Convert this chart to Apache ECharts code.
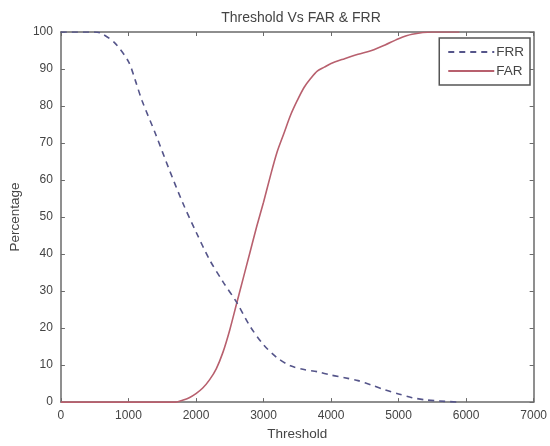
<!DOCTYPE html>
<html>
<head>
<meta charset="utf-8">
<script src="https://cdn.jsdelivr.net/npm/echarts@6/dist/echarts.min.js"></script>
<style>
  html, body { margin: 0; padding: 0; background: #fff; }
  #chart { width: 550px; height: 446px; }
</style>
</head>
<body>
<div id="chart"></div>
<script>
// threshold values and percentages
var frrThreshold = [0, 500, 600, 800, 1000, 1100, 1200, 1400, 1600, 1800, 2000, 2200, 2400, 2600, 2800, 3000, 3200, 3400, 3600, 3800, 4000, 4200, 4400, 4600, 4800, 5000, 5200, 5400, 5600, 5900];
var frrValues = [100, 100, 99.6, 97, 92, 87, 81.5, 72.5, 63, 54, 46, 38.5, 32.5, 27, 20.5, 15.5, 12, 9.8, 8.8, 8.2, 7.3, 6.6, 5.8, 4.6, 3.3, 2.2, 1.2, 0.6, 0.3, 0];

var farThreshold = [0, 1700, 1800, 1900, 2000, 2100, 2200, 2300, 2400, 2500, 2600, 2700, 2800, 2900, 3000, 3100, 3200, 3300, 3400, 3500, 3600, 3700, 3800, 3900, 4000, 4200, 4400, 4600, 4800, 5000, 5200, 5500, 5900];
var farValues = [0, 0, 0.5, 1.2, 2.3, 3.8, 6, 9, 13.5, 19.5, 26.5, 33.5, 40.5, 47.5, 54, 61, 67.5, 72.5, 77.5, 81.5, 85, 87.5, 89.5, 90.5, 91.5, 92.8, 94, 95, 96.5, 98.2, 99.4, 100, 100];

function pairs(xs, ys) {
  return xs.map(function (x, i) { return [x, ys[i]]; });
}

var textColor = "#444";
var axisColor = "#6a6a6a";
var font = "Liberation Sans";

var chart = echarts.init(document.getElementById("chart"), null, { renderer: "canvas" });

function axisBase(show) {
  return {
    type: "value",
    axisLine: { show: true, onZero: false, lineStyle: { color: axisColor, width: 1.5 } },
    axisTick: { show: true, inside: true, length: 4, lineStyle: { color: axisColor } },
    axisLabel: {
      show: show, color: textColor, fontFamily: font, fontSize: 12,
      formatter: function (v) { return String(v); }
    },
    splitLine: { show: false }
  };
}

var option = {
  animation: false,
  backgroundColor: "#fff",
  title: {
    text: "Threshold Vs FAR & FRR",
    left: 296,
    textAlign: "center",
    top: 6,
    textStyle: { color: textColor, fontFamily: font, fontSize: 14, fontWeight: "normal" }
  },
  legend: {
    right: 20,
    top: 38,
    orient: "vertical",
    align: "left",
    itemWidth: 46,
    itemHeight: 10,
    itemGap: 5,
    padding: [7, 6, 7, 8],
    borderColor: "#555",
    borderWidth: 1.5,
    backgroundColor: "#fff",
    itemStyle: { opacity: 0 },
    textStyle: { color: textColor, fontFamily: font, fontSize: 13.5, padding: [0, 0, 0, -3] },
    data: ["FRR", "FAR"]
  },
  grid: { left: 60, right: 15, top: 32, bottom: 41, containLabel: false },
  xAxis: [
    Object.assign(axisBase(true), {
      min: 0, max: 7000, interval: 1000, position: "bottom",
      name: "Threshold", nameLocation: "middle", nameGap: 23,
      nameTextStyle: { color: textColor, fontFamily: font, fontSize: 13.5 }
    }),
    Object.assign(axisBase(false), { min: 0, max: 7000, interval: 1000, position: "top" })
  ],
  yAxis: [
    Object.assign(axisBase(true), {
      min: 0, max: 100, interval: 10, position: "left",
      name: "Percentage", nameLocation: "middle", nameGap: 35,
      nameTextStyle: { color: textColor, fontFamily: font, fontSize: 13.5 }
    }),
    Object.assign(axisBase(false), { min: 0, max: 100, interval: 10, position: "right" })
  ],
  series: [
    {
      name: "FRR",
      type: "line",
      data: pairs(frrThreshold, frrValues),
      symbol: "none",
      smooth: 0.3,
      lineStyle: { color: "#55558a", width: 1.6, type: [6, 5] },
      itemStyle: { color: "#55558a" },
      z: 3
    },
    {
      name: "FAR",
      type: "line",
      data: pairs(farThreshold, farValues),
      symbol: "none",
      smooth: 0.3,
      lineStyle: { color: "#b8606e", width: 1.6 },
      itemStyle: { color: "#b8606e" },
      z: 2
    }
  ]
};

chart.setOption(option);
</script>
</body>
</html>
